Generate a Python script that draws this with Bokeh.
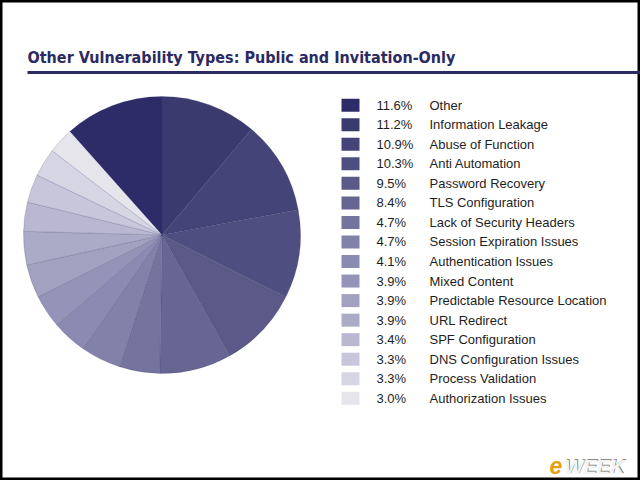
import math
from bokeh.plotting import figure
from bokeh.models import ColumnDataSource, Range1d
from bokeh.core.properties import value
from bokeh.embed import file_html
from bokeh.resources import INLINE

# ---- data ----
title_text = "Other Vulnerability Types: Public and Invitation-Only"
categories = ["Other", "Information Leakage", "Abuse of Function", "Anti Automation",
              "Password Recovery", "TLS Configuration", "Lack of Security Headers",
              "Session Expiration Issues", "Authentication Issues", "Mixed Content",
              "Predictable Resource Location", "URL Redirect", "SPF Configuration",
              "DNS Configuration Issues", "Process Validation", "Authorization Issues"]
percents = [11.6, 11.2, 10.9, 10.3, 9.5, 8.4, 4.7, 4.7, 4.1, 3.9, 3.9, 3.9, 3.4, 3.3, 3.3, 3.0]
colors = ["#2e2c68", "#3b3a6f", "#454478", "#4f4e80", "#5a5988", "#676693", "#75749e",
          "#8281a9", "#8b8ab3", "#9594b8", "#a2a1c0", "#acabc7", "#b9b8d0", "#c7c6da",
          "#d6d5e3", "#e6e5ec"]

W, H = 640, 480
NAVY = "#2c2a62"

p = figure(width=W, height=H, output_backend="svg", toolbar_location=None,
           x_range=Range1d(0, W), y_range=Range1d(0, H), min_border=0)
p.axis.visible = False
p.grid.visible = False
p.outline_line_color = "black"
p.outline_line_width = 4
p.background_fill_color = "white"
p.border_fill_color = "white"

def Y(y):
    return H - y

# ---- pie ----
total = sum(percents)
cx, cy, r = 161.5, Y(234.5), 138.5
offset = math.pi / 2 + percents[0] / total * 2 * math.pi
starts, ends = [], []
cum = 0.0
for v in percents:
    a0 = offset - cum / total * 2 * math.pi
    cum += v
    a1 = offset - cum / total * 2 * math.pi
    starts.append(a1)
    ends.append(a0)
pie_src = ColumnDataSource(dict(start=starts, end=ends, color=colors))
p.wedge(x=cx, y=cy, radius=r, start_angle="start", end_angle="end", direction="anticlock",
        fill_color="color", line_color=NAVY, line_alpha=0.18, line_width=1, source=pie_src)

# ---- title ----
p.text(x=[27], y=[Y(57)], text=[title_text], text_font=value("DejaVu Sans Condensed"),
       text_font_style="bold", text_font_size="16px", text_color=NAVY, text_baseline="alphabetic")
p.segment(x0=[27], y0=[Y(72)], x1=[W], y1=[Y(72)], line_color=NAVY, line_width=3)

# ---- legend ----
row0, step = 104.7, 19.54
ys = [Y(row0 + step * i) for i in range(len(categories))]
leg = ColumnDataSource(dict(y=ys, color=colors, cat=categories,
                            pct=["%.1f%%" % v for v in percents]))
p.rect(x=350, y="y", width=18, height=13, fill_color="color", line_color=None, source=leg)
p.text(x=376, y="y", text="pct", text_font=value("Liberation Sans"), text_font_size="13px",
       text_color="#1e1e1e", text_baseline="middle", source=leg)
p.text(x=429, y="y", text="cat", text_font=value("Liberation Sans"), text_font_size="13px",
       text_color="#1e1e1e", text_baseline="middle", source=leg)

# ---- eWEEK watermark ----
p.text(x=[565], y=[Y(465)], text=["WEEK"], text_font=value("Liberation Sans"), text_font_style="bold italic",
       text_font_size="20px", text_color="#8a8a8a", text_baseline="alphabetic")
p.text(x=[564], y=[Y(466)], text=["WEEK"], text_font=value("Liberation Sans"), text_font_style="bold italic",
       text_font_size="20px", text_color="#f4f4f4", text_baseline="alphabetic")
p.text(x=[549], y=[Y(465)], text=["e"], text_font=value("Liberation Sans"), text_font_style="bold italic",
       text_font_size="23px", text_color="#e6a012", text_baseline="alphabetic")

open("out.html", "w").write(file_html(p, INLINE))
